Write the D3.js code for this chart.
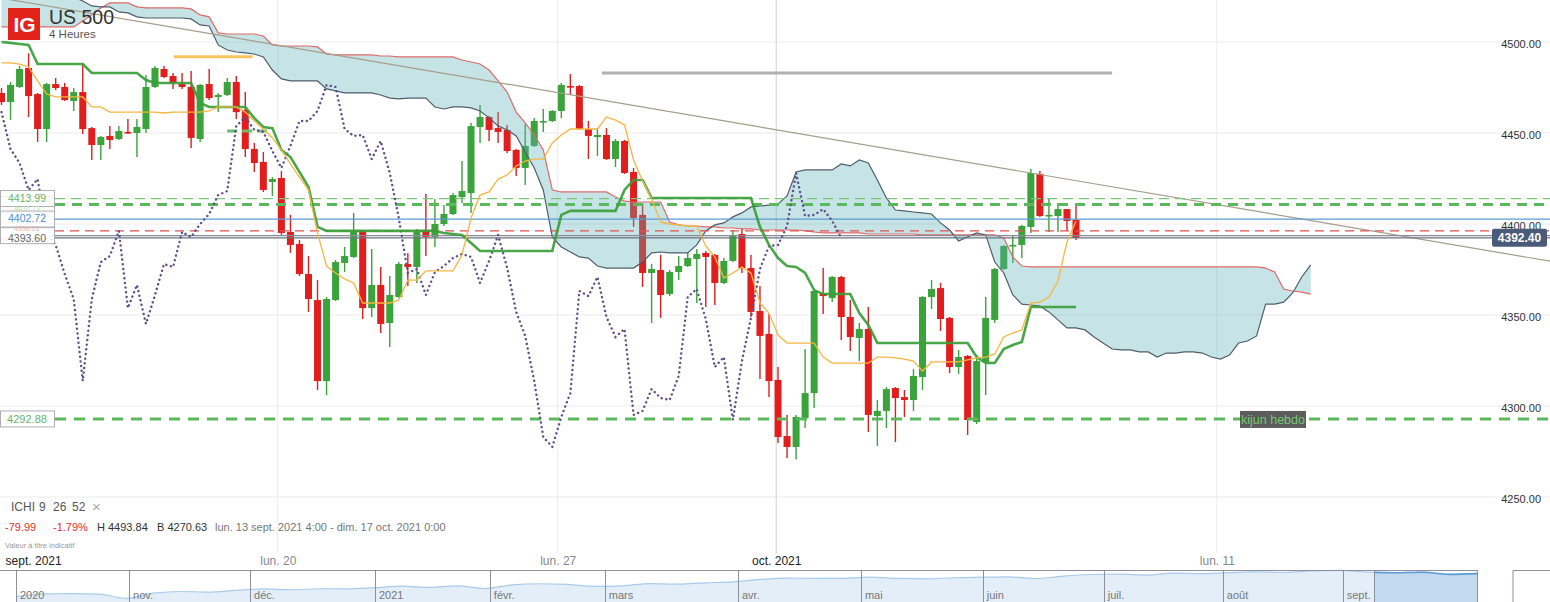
<!DOCTYPE html>
<html><head><meta charset="utf-8">
<script src="https://cdn.jsdelivr.net/npm/d3@7"></script>
<style>
html,body{margin:0;padding:0;background:#fff;}
svg{display:block;font-family:"Liberation Sans",Arial,sans-serif;}
</style></head><body>
<svg id="c" width="1550" height="602"></svg>
<script>
// ---------- DATA (4h candles, US 500) ----------
const open = [4472.0,4467.0,4475.3,4485.7,4471.4,4452.2,4476.9,4475.3,4467.6,4472.5,
4452.7,4443.4,4448.4,4446.7,4450.6,4450.0,4452.2,4475.3,4485.2,4481.3,
4476.9,4475.3,4446.7,4476.9,4469.8,4470.9,4478.0,4462.6,4441.2,4434.1,
4423.1,4425.3,4395.6,4389.0,4372.5,4358.2,4313.7,4358.2,4378.6,4381.9,
4396.2,4353.8,4366.5,4345.6,4359.9,4378.0,4376.4,4396.7,4392.9,4400.0,
4405.5,4414.8,4417.0,4453.3,4458.8,4452.7,4451.7,4440.7,4430.8,4442.9,
4456.0,4456.6,4462.1,4475.8,4475.8,4452.2,4447.8,4448.9,4435.7,4445.6,
4428.6,4405.0,4373.1,4374.7,4361.5,4373.6,4376.9,4380.8,4384.1,4383.0,
4367.6,4379.7,4394.5,4375.8,4352.2,4339.6,4314.3,4283.5,4277.5,4293.4,
4307.1,4362.1,4359.3,4370.9,4348.9,4337.4,4342.3,4294.5,4297.3,4309.9,
4304.9,4303.3,4315.9,4359.9,4364.8,4348.4,4321.4,4327.5,4291.2,4324.2,
4347.3,4375.3,4387.9,4388.5,4398.4,4427.5,4404.4,4404.4,4408.2,4402.2];
const high = [4474.7,4478.0,4486.8,4493.8,4472.0,4477.5,4480.2,4477.5,4474.7,4488.5,
4453.3,4448.4,4453.8,4453.8,4457.7,4457.7,4481.9,4486.8,4486.8,4483.0,
4483.0,4484.1,4476.9,4485.2,4472.0,4480.2,4481.3,4472.5,4444.5,4439.6,
4425.8,4429.1,4405.0,4391.2,4382.4,4369.2,4359.9,4380.2,4387.4,4406.1,
4396.7,4386.3,4376.4,4371.4,4379.1,4384.1,4397.3,4416.5,4413.7,4410.4,
4417.0,4434.6,4455.5,4465.4,4459.3,4461.5,4454.4,4441.2,4454.9,4458.2,
4463.2,4462.6,4477.5,4482.4,4476.4,4456.6,4452.7,4452.7,4446.7,4446.2,
4430.8,4411.5,4378.0,4383.0,4374.7,4382.4,4384.1,4386.3,4385.2,4383.5,
4381.3,4396.7,4397.8,4383.0,4365.9,4350.6,4321.4,4295.1,4295.1,4331.3,
4363.5,4375.8,4371.4,4371.4,4358.2,4345.6,4354.4,4303.3,4310.4,4310.4,
4308.8,4320.3,4360.4,4369.2,4367.6,4348.9,4330.8,4328.0,4328.0,4359.9,
4375.8,4388.5,4394.0,4399.5,4430.2,4429.1,4413.7,4411.5,4408.2,4409.9];
const low = [4465.4,4457.1,4474.7,4458.8,4445.1,4445.1,4473.6,4467.6,4462.1,4449.5,
4435.2,4435.2,4441.2,4446.2,4449.5,4436.8,4450.0,4474.7,4480.2,4474.2,
4474.2,4441.8,4445.1,4468.1,4461.5,4470.3,4457.7,4436.8,4428.6,4417.6,
4415.4,4394.0,4384.1,4371.4,4351.7,4308.8,4306.0,4357.7,4373.6,4381.3,
4347.8,4348.9,4340.1,4332.4,4359.3,4365.9,4367.6,4382.4,4387.4,4398.9,
4405.0,4411.5,4406.1,4444.5,4445.6,4444.5,4439.0,4426.4,4421.4,4442.3,
4450.6,4456.0,4458.2,4470.9,4451.7,4435.7,4437.4,4435.2,4431.3,4427.5,
4398.4,4365.4,4345.6,4348.4,4360.4,4369.2,4376.4,4356.6,4354.4,4355.5,
4367.0,4379.1,4373.1,4348.9,4314.8,4304.9,4279.7,4271.4,4270.6,4287.9,
4298.9,4350.6,4357.1,4336.3,4330.2,4324.7,4285.7,4278.0,4287.9,4280.2,
4294.0,4297.3,4308.8,4353.3,4341.2,4318.1,4317.6,4284.1,4290.1,4306.0,
4345.6,4374.7,4378.6,4381.3,4395.1,4403.9,4395.6,4395.6,4396.2,4391.2];
const close = [4467.0,4476.4,4485.2,4470.3,4452.2,4476.9,4474.7,4468.1,4472.5,4452.2,
4443.4,4447.8,4446.2,4451.1,4450.0,4453.3,4475.3,4485.7,4480.8,4477.5,
4475.3,4447.3,4476.4,4469.2,4470.9,4478.0,4461.5,4441.2,4433.5,4418.7,
4424.7,4395.1,4388.5,4372.5,4358.8,4313.7,4358.8,4379.1,4382.4,4396.2,
4353.8,4366.5,4345.1,4361.0,4378.0,4376.4,4395.6,4392.9,4400.0,4405.5,
4415.9,4418.1,4453.8,4458.8,4451.7,4450.6,4440.1,4430.8,4442.9,4456.6,
4456.6,4462.1,4476.4,4475.3,4452.2,4448.4,4448.9,4435.7,4445.6,4428.0,
4403.3,4373.1,4375.3,4361.0,4373.6,4376.9,4381.3,4383.5,4381.9,4367.6,
4379.7,4394.0,4375.8,4351.7,4338.5,4313.7,4283.0,4277.5,4294.0,4307.1,
4363.2,4360.4,4370.9,4348.9,4337.9,4342.3,4295.1,4297.3,4309.3,4304.4,
4303.3,4316.5,4359.9,4364.3,4347.8,4321.4,4326.9,4292.3,4324.7,4348.4,
4375.3,4387.9,4388.5,4398.9,4428.0,4404.4,4405.0,4408.2,4401.7,4392.4];

// Ichimoku lines (one value per candle)
const tenkan = [4488.5,4488.5,4487.9,4486.3,4478.6,4471.4,4469.8,4469.8,4469.8,4469.8,
4464.3,4464.3,4461.5,4461.5,4461.5,4461.5,4461.5,4461.5,4461.0,4461.5,
4461.5,4461.5,4461.5,4462.1,4464.3,4464.3,4464.3,4461.5,4456.6,4452.2,
4447.3,4440.7,4433.0,4425.8,4418.7,4395.1,4376.9,4373.1,4369.8,4367.6,
4356.6,4356.6,4356.6,4356.6,4358.2,4369.2,4369.2,4374.2,4374.2,4374.2,
4374.2,4383.0,4403.3,4415.9,4417.6,4424.7,4426.9,4431.9,4434.6,4435.7,
4435.7,4444.5,4448.9,4452.2,4452.2,4452.2,4452.2,4458.8,4457.1,4454.4,
4435.2,4423.6,4413.7,4401.1,4400.0,4399.5,4398.9,4398.9,4387.9,4381.9,
4370.3,4373.1,4376.4,4373.1,4356.6,4351.1,4339.0,4334.6,4334.6,4334.6,
4334.6,4326.9,4323.6,4323.6,4323.6,4323.6,4323.6,4326.9,4326.9,4326.4,
4325.8,4324.7,4319.2,4324.2,4324.2,4324.2,4324.2,4325.3,4326.4,4326.9,
4328.6,4337.9,4340.1,4341.8,4356.6,4357.1,4359.9,4368.7,4390.1,4401.7];
const kijun = [4500.0,4499.5,4498.9,4498.4,4487.9,4487.9,4487.9,4487.9,4487.9,4487.9,
4483.0,4483.0,4483.0,4483.0,4483.0,4483.0,4479.1,4477.5,4477.5,4477.5,
4477.5,4477.5,4466.5,4464.3,4464.3,4464.3,4464.3,4464.3,4458.2,4453.3,
4452.7,4440.7,4436.8,4428.6,4420.3,4398.4,4396.2,4396.2,4396.2,4396.2,
4396.2,4396.2,4396.2,4396.2,4396.2,4396.2,4396.2,4396.2,4396.2,4395.1,
4394.5,4394.0,4389.6,4385.2,4385.2,4385.2,4385.2,4385.2,4385.2,4385.2,
4385.2,4385.2,4405.0,4407.2,4407.2,4407.2,4407.2,4407.2,4407.2,4418.7,
4424.2,4424.2,4414.3,4414.3,4414.3,4414.3,4414.3,4414.3,4414.3,4414.3,
4414.3,4414.3,4414.3,4414.3,4398.4,4388.5,4381.3,4376.9,4376.4,4373.1,
4363.7,4361.5,4361.5,4361.5,4361.5,4351.1,4344.5,4334.6,4334.6,4334.6,
4334.6,4334.6,4334.6,4334.6,4334.6,4334.6,4334.6,4334.6,4326.9,4323.6,
4323.6,4331.3,4333.5,4335.2,4354.4,4354.4,4354.4,4354.4,4354.4,4354.4];
// Cloud (already shifted 26 periods forward: 146 values)
const spanRed = [4508.3,4508.3,4508.3,4508.3,4508.3,4508.3,4508.3,4508.3,4508.3,4511.6,
4514.9,4518.7,4521.5,4521.5,4521.5,4519.3,4518.7,4518.7,4518.7,4518.7,
4518.7,4518.2,4514.9,4513.8,4505.0,4504.4,4504.4,4504.4,4504.4,4503.3,
4498.4,4497.8,4497.8,4497.8,4497.8,4497.3,4493.4,4492.9,4492.9,4492.9,
4492.9,4492.9,4492.3,4492.3,4491.8,4491.8,4491.8,4491.8,4491.8,4491.8,
4491.8,4490.1,4489.0,4487.9,4484.6,4478.6,4472.5,4461.5,4455.5,4448.9,
4440.7,4418.7,4417.6,4417.6,4417.6,4417.6,4417.6,4417.6,4414.8,4412.6,
4412.1,4412.1,4412.1,4412.1,4401.1,4399.5,4398.9,4398.9,4398.4,4398.4,
4397.8,4397.8,4397.3,4397.3,4396.7,4396.7,4396.7,4396.7,4396.7,4396.2,
4395.6,4395.1,4395.1,4395.1,4395.1,4395.1,4394.5,4394.5,4394.5,4394.5,
4394.5,4394.5,4394.0,4394.0,4394.0,4394.0,4394.0,4394.0,4394.0,4394.0,
4394.0,4392.3,4381.9,4376.9,4376.4,4376.4,4376.4,4376.4,4376.4,4376.4,
4376.4,4376.4,4376.4,4376.4,4376.4,4376.4,4376.4,4376.4,4376.4,4376.4,
4376.4,4376.4,4376.4,4376.4,4376.4,4376.4,4376.4,4376.4,4376.4,4376.4,
4375.8,4373.6,4364.3,4363.2,4362.6,4361.5];
const spanDark = [4525.3,4525.3,4525.3,4525.3,4525.3,4525.3,4525.3,4525.3,4524.7,4522.5,
4519.8,4519.3,4519.3,4516.5,4516.0,4513.8,4513.2,4513.2,4513.2,4513.2,
4513.2,4512.7,4509.4,4508.8,4498.4,4495.6,4494.5,4494.0,4493.4,4491.8,
4484.6,4479.7,4478.6,4478.6,4478.6,4478.6,4474.2,4473.1,4472.0,4472.0,
4472.0,4472.0,4470.9,4469.2,4468.7,4469.2,4469.2,4469.2,4464.3,4463.2,
4464.3,4464.3,4463.8,4462.1,4458.3,4453.9,4451.7,4448.4,4439.6,4430.8,
4418.7,4392.9,4387.4,4384.6,4381.9,4381.3,4376.9,4375.8,4375.8,4375.8,
4375.8,4379.1,4384.1,4384.6,4384.1,4384.1,4384.1,4388.5,4396.2,4399.5,
4400.6,4403.9,4406.1,4409.4,4409.9,4410.4,4411.0,4415.4,4428.6,4429.7,
4429.7,4429.7,4429.7,4433.0,4431.9,4435.2,4433.5,4424.2,4414.3,4407.7,
4407.2,4406.6,4406.1,4405.5,4400.6,4396.7,4390.7,4392.9,4395.1,4394.0,
4379.1,4373.1,4361.0,4356.0,4355.5,4354.9,4351.7,4347.3,4342.9,4342.9,
4341.8,4337.9,4334.6,4331.3,4330.8,4330.8,4329.7,4329.7,4326.9,4329.1,
4329.1,4329.7,4329.7,4329.1,4326.9,4325.8,4328.0,4334.6,4335.7,4338.5,
4356.0,4356.0,4357.1,4362.1,4370.9,4377.5];
const chikouShift = 26;

// Axis ticks
const yTicks = [4250, 4300, 4350, 4400, 4450, 4500];
const xTickIdx = [0.4, 30.6, 61.6, 85.8, 134.6];
const xTickLabels = ["sept. 2021", "lun. 20", "lun. 27", "oct. 2021", "lun. 11"];
const xTickMajor = [true, false, false, true, false];

// Drawn levels and tools
const levelPrices = [4410.73, 4413.99, 4396.21, 4402.72, 4393.60, 4392.40, 4292.88];
const trendPts = [[-0.17, 4524.2], [171.7, 4379.4]];
const segOrange = [[19.1, 27.8], 4491.9];
const segGrey = [[66.5, 123.0], 4483.0];
const segKijunW = [[25.0, 29.4], 4451.1];
const lastPrice = 4392.40;

// Navigator (weekly, oct. 2020 - oct. 2021)
const navValues = [3348,3477,3484,3465,3270,3509,3585,3558,3638,3699,3663,3709,3703,3756,
3824,3768,3841,3714,3886,3934,3906,3811,3842,3943,3913,3974,4020,4128,4185,4180,4181,
4232,4173,4155,4204,4229,4247,4166,4280,4352,4369,4327,4411,4395,4436,4468,4441,4509,
4535,4458,4432,4455,4357,4391];
const navMonthIdx = [0, 4.10, 8.49, 13.02, 17.19, 21.36, 26.19, 30.65, 35.07, 39.46, 43.78, 48.13];
const navMonthLabels = ["2020","nov.","déc.","2021","févr.","mars","avr.","mai","juin","juil.","août","sept."];
const navSelection = [49.26, 53];

// ---------- DRAW ----------
const W = 1550, H = 602;
const RED = "#e11d1d", GREEN = "#3ba33b";
const svg = d3.select("#c");
const x = d3.scaleLinear().domain([0, 119]).range([1.5, 1076]);
const y = d3.scaleLinear().domain([4250, 4500]).range([497, 42]);

svg.append("defs").append("clipPath").attr("id","plotclip")
  .append("rect").attr("x",0).attr("y",0).attr("width",W).attr("height",500);

// grid
const grid = svg.append("g");
grid.selectAll("line.h").data(yTicks).join("line")
  .attr("x1",0).attr("x2",W).attr("y1",d=>y(d)).attr("y2",d=>y(d))
  .attr("stroke","#ebebeb").attr("stroke-width",1);
grid.selectAll("line.v").data(xTickIdx.slice(1)).join("line")
  .attr("x1",d=>x(d)).attr("x2",d=>x(d)).attr("y1",0).attr("y2",553)
  .attr("stroke",(d,i)=>xTickMajor[i+1]?"#d2d2d2":"#ececec").attr("stroke-width",1);

const plot = svg.append("g").attr("clip-path","url(#plotclip)");

// candles
const idx = d3.range(close.length);
const bw = 7;
const col = i => close[i] >= open[i] ? GREEN : RED;
plot.append("g").selectAll("line").data(idx).join("line")
  .attr("x1",i=>x(i)).attr("x2",i=>x(i))
  .attr("y1",i=>y(high[i])).attr("y2",i=>y(low[i]))
  .attr("stroke",col).attr("stroke-width",1.4);
plot.append("g").selectAll("rect").data(idx).join("rect")
  .attr("x",i=>x(i)-bw/2).attr("width",bw)
  .attr("y",i=>y(Math.max(open[i],close[i])))
  .attr("height",i=>Math.max(1.6,Math.abs(y(open[i])-y(close[i]))))
  .attr("fill",col);

// cloud
const cidx = d3.range(spanRed.length);
plot.append("path").datum(cidx)
  .attr("d", d3.area().x(i=>x(i)).y0(i=>y(spanRed[i])).y1(i=>y(spanDark[i])))
  .attr("fill","rgba(92,178,184,0.35)");
plot.append("path").datum(cidx)
  .attr("d", d3.line().x(i=>x(i)).y(i=>y(spanRed[i])))
  .attr("fill","none").attr("stroke","#e06a6a").attr("stroke-width",1.2);
plot.append("path").datum(cidx)
  .attr("d", d3.line().x(i=>x(i)).y(i=>y(spanDark[i])))
  .attr("fill","none").attr("stroke","#4f5e6b").attr("stroke-width",1.2);

// trend line
plot.append("line")
  .attr("x1",x(trendPts[0][0])).attr("y1",y(trendPts[0][1]))
  .attr("x2",x(trendPts[1][0])).attr("y2",y(trendPts[1][1]))
  .attr("stroke","#a69d8a").attr("stroke-width",1.2);

// horizontal levels
const levelStyle = [
  {c:"#5cb85c", w:3, d:"10 7"},
  {c:"#7cc47c", w:1.3, d:"10 6"},
  {c:"#e05252", w:1.3, d:"9 6"},
  {c:"#5b9bd5", w:1.3, d:null},
  {c:"#8c8c99", w:1.3, d:null},
  {c:"#6a7482", w:1.3, d:null},
  {c:"#5cb85c", w:3, d:"11 8"}
];
plot.append("g").selectAll("line").data(levelPrices).join("line")
  .attr("x1",55).attr("x2",W).attr("y1",d=>y(d)).attr("y2",d=>y(d))
  .attr("stroke",(d,i)=>levelStyle[i].c).attr("stroke-width",(d,i)=>levelStyle[i].w)
  .attr("stroke-dasharray",(d,i)=>levelStyle[i].d);

// drawn segments
function seg(s, color, w, dash){
  plot.append("line").attr("x1",x(s[0][0])).attr("x2",x(s[0][1]))
    .attr("y1",y(s[1])).attr("y2",y(s[1]))
    .attr("stroke",color).attr("stroke-width",w).attr("stroke-dasharray",dash);
}
seg(segOrange,"#f7c35c",3,null);
seg(segGrey,"#b0b0b4",3,null);
seg(segKijunW,"#6cbc6c",3,"10 5");

// chikou
const chIdx = d3.range(close.length - chikouShift);
plot.append("path").datum(chIdx)
  .attr("d", d3.line().x(i=>x(i)).y(i=>y(close[i+chikouShift])))
  .attr("fill","none").attr("stroke","#5e4f8c").attr("stroke-width",2.4)
  .attr("stroke-dasharray","0.1 4.6").attr("stroke-linecap","round");

// kijun & tenkan
plot.append("path").datum(idx)
  .attr("d", d3.line().x(i=>x(i)).y(i=>y(kijun[i])))
  .attr("fill","none").attr("stroke","#3a9e3a").attr("stroke-width",2.6).attr("opacity",0.92);
plot.append("path").datum(idx)
  .attr("d", d3.line().x(i=>x(i)).y(i=>y(tenkan[i])))
  .attr("fill","none").attr("stroke","#f5b640").attr("stroke-width",1.3);

// left level labels (back labels faint and small, front labels semi-opaque)
const labelStyle = [
  {t:"#b8dcb8", f:"#fff", fs:7, dy:6.6},
  {t:"#6ab46a", f:"rgba(255,255,255,0.78)", fs:10.5, dy:3.2},
  {t:"#f0b0b0", f:"#fff", fs:7, dy:-0.3},
  {t:"#4a8fd4", f:"rgba(255,255,255,0.85)", fs:10.5, dy:3},
  {t:"#666", f:"rgba(255,255,255,0.8)", fs:10.5, dy:6.3},
  null,
  {t:"#6ab46a", f:"#fff", fs:11, dy:4}
];
const lab = svg.append("g");
levelPrices.forEach((p,i)=>{
  const s = labelStyle[i]; if(!s) return;
  const g = lab.append("g").attr("transform",`translate(0,${y(p)})`);
  g.append("rect").attr("x",0.5).attr("y",-8).attr("width",54).attr("height",16)
    .attr("fill",s.f).attr("stroke","#aeaeb6").attr("stroke-width",1);
});
levelPrices.forEach((p,i)=>{
  const s = labelStyle[i]; if(!s) return;
  lab.append("text").attr("x",27).attr("y",y(p)+s.dy).attr("text-anchor","middle")
    .style("font-size",s.fs+"px").attr("fill",s.t).text(d3.format(".2f")(p));
});

// right axis
const ya = svg.append("g").attr("transform","translate(1541,0)")
  .call(d3.axisLeft(y).tickValues(yTicks).tickSize(0).tickPadding(0).tickFormat(d3.format(".2f")));
ya.select(".domain").remove();
ya.selectAll("text").attr("fill","#333").style("font-size","11px")
  .style("font-family","'Liberation Sans',Arial,sans-serif").attr("dy","0.5em");

// last price tag
const tag = svg.append("g").attr("transform",`translate(1492,${y(lastPrice)})`);
tag.append("rect").attr("x",0).attr("y",-9).attr("width",55).attr("height",18).attr("rx",2).attr("fill","#4a5b79");
tag.append("text").attr("x",27.5).attr("y",4.5).attr("text-anchor","middle")
  .attr("fill","#fff").style("font-size","12px").style("font-weight","bold").text(d3.format(".2f")(lastPrice));

// kijun hebdo label
const kh = svg.append("g").attr("transform",`translate(1240,${y(levelPrices[6])})`);
kh.append("rect").attr("x",0).attr("y",-8).attr("width",66).attr("height",17).attr("fill","#4a4a4a").attr("opacity",0.9);
kh.append("text").attr("x",33).attr("y",5).attr("text-anchor","middle")
  .attr("fill","#78c878").style("font-size","12.5px").text("kijun hebdo");

// x axis labels
const xa = svg.append("g").attr("transform","translate(0,555)")
  .call(d3.axisBottom(x).tickValues(xTickIdx).tickSize(0).tickPadding(0)
    .tickFormat((d,i)=>xTickLabels[i]));
xa.select(".domain").remove();
xa.selectAll("text").style("font-size","12px")
  .style("font-family","'Liberation Sans',Arial,sans-serif")
  .attr("fill",(d,i)=>xTickMajor[i]?"#222":"#888")
  .attr("text-anchor",(d,i)=>i===0?"start":"middle").attr("dy","0.85em");

// header
const hd = svg.append("g");
hd.append("rect").attr("x",8).attr("y",8).attr("width",32).attr("height",32).attr("fill","#e2231a");
hd.append("text").attr("x",24.5).attr("y",32).attr("text-anchor","middle").attr("fill","#fff")
  .style("font-size","21px").style("font-weight","bold").text("IG");
hd.append("text").attr("x",49).attr("y",23.5).attr("fill","#333").style("font-size","19.5px").text("US 500");
hd.append("text").attr("x",49).attr("y",38).attr("fill","#555").style("font-size","11.5px").text("4 Heures");

// legend
const lg = svg.append("g").style("font-size","12px");
[["ICHI",11],["9",39],["26",53],["52",72]].forEach(([t,xx])=>
  lg.append("text").attr("x",xx).attr("y",511).attr("fill","#555").text(t));
lg.append("text").attr("x",92).attr("y",512).attr("fill","#aaa").style("font-size","15px").text("×");
const info = [["-79.99",5,"#e03030"],["-1.79%",53,"#e03030"],["H 4493.84",97,"#333"],["B 4270.63",157,"#333"],
  ["lun. 13 sept. 2021 4:00 - dim. 17 oct. 2021 0:00",215,"#777"]];
info.forEach(([t,xx,c])=>lg.append("text").attr("x",xx).attr("y",531).attr("fill",c).style("font-size","11px").text(t));
lg.append("text").attr("x",5).attr("y",548).attr("fill","#999").style("font-size","7.5px").text("Valeur à titre indicatif");

// navigator
const nx = d3.scaleLinear().domain([0, navValues.length-1]).range([16, 1477]);
const ny = d3.scaleLinear().domain([3200, 4600]).range([600, 569]);
const nav = svg.append("g");
const nidx = d3.range(navValues.length);
const narea = d3.area().x(i=>nx(i)).y0(602).y1(i=>ny(navValues[i])).curve(d3.curveMonotoneX);
const nline = d3.line().x(i=>nx(i)).y(i=>ny(navValues[i])).curve(d3.curveMonotoneX);
nav.append("path").datum(nidx).attr("d",narea).attr("fill","#e3eef9");
nav.append("path").datum(nidx).attr("d",nline).attr("fill","none").attr("stroke","#a9cbeb").attr("stroke-width",1.2);
svg.append("defs").append("clipPath").attr("id","selclip").append("rect")
  .attr("x",nx(navSelection[0])).attr("y",560).attr("width",nx(navSelection[1])-nx(navSelection[0])).attr("height",50);
const sel = nav.append("g").attr("clip-path","url(#selclip)");
sel.append("path").datum(nidx).attr("d",narea).attr("fill","#c3d9ef");
sel.append("path").datum(nidx).attr("d",nline).attr("fill","none").attr("stroke","#5b9bd5").attr("stroke-width",1.6);
nav.append("line").attr("x1",0).attr("x2",nx(navSelection[1])).attr("y1",570.5).attr("y2",570.5).attr("stroke","#8e8e9c");
nav.append("path").attr("d",`M${nx(navSelection[1])+36},602V570.5H${W}`).attr("fill","none").attr("stroke","#8e8e9c");
nav.selectAll("line.sep").data(navMonthIdx.concat(navSelection)).join("line")
  .attr("x1",d=>Math.round(nx(d))+0.5).attr("x2",d=>Math.round(nx(d))+0.5).attr("y1",570).attr("y2",602)
  .attr("stroke","#8e8e9c").attr("stroke-width",1);
nav.selectAll("text").data(navMonthIdx).join("text")
  .attr("x",d=>nx(d)+4).attr("y",599).attr("fill","#777").style("font-size","11px")
  .text((d,i)=>navMonthLabels[i]);
</script>
</body></html>
